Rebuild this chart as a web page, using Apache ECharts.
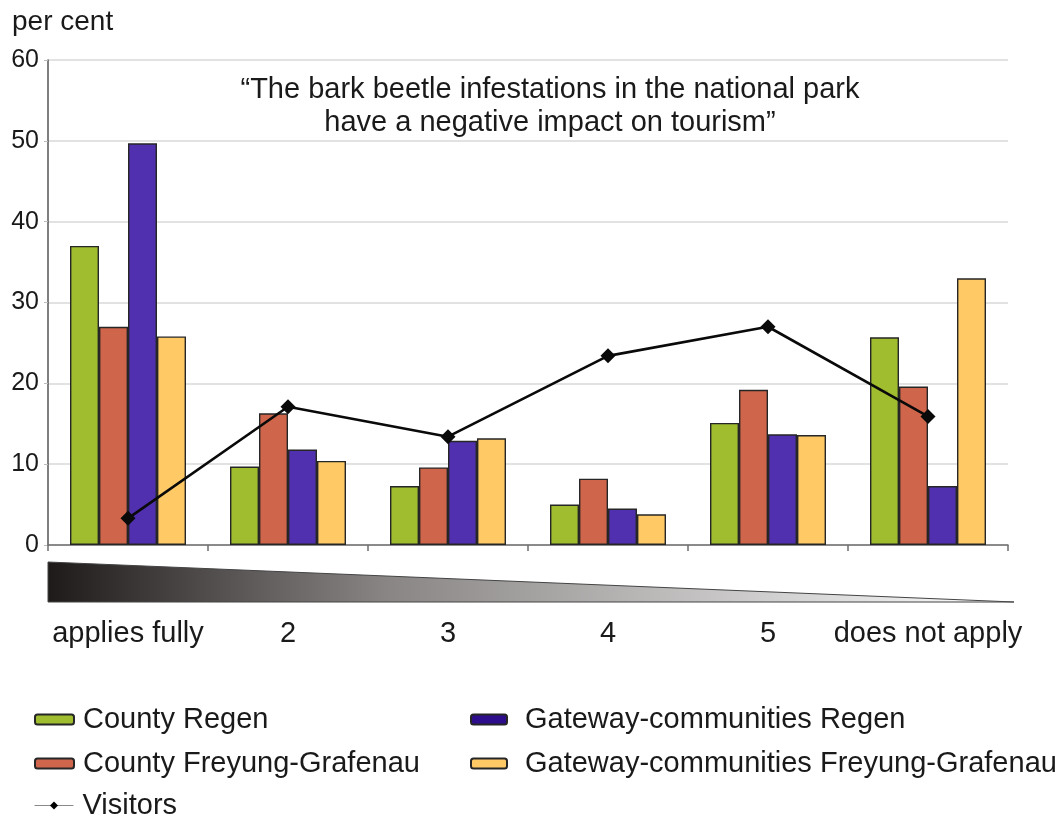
<!DOCTYPE html>
<html>
<head>
<meta charset="utf-8">
<script src="https://cdn.jsdelivr.net/npm/echarts@6/dist/echarts.min.js"></script>
<style>
html,body{margin:0;padding:0;background:#fff;}
#chart{width:1060px;height:816px;}
</style>
</head>
<body>
<div id="chart"></div>
<script>
const categories = ['applies fully', '2', '3', '4', '5', 'does not apply'];
const countyRegen = [37.0, 9.7, 7.3, 5.0, 15.1, 25.7];
const countyFG = [27.0, 16.3, 9.6, 8.2, 19.2, 19.6];
const gatewayRegen = [49.7, 11.8, 12.9, 4.5, 13.7, 7.3];
const gatewayFG = [25.8, 10.4, 13.2, 3.8, 13.6, 33.0];
const visitors = [3.3, 17.1, 13.4, 23.4, 27.0, 15.9];
const yTicks = [0, 10, 20, 30, 40, 50, 60];

const FONT = '"Liberation Sans", Arial, sans-serif';
const TXT = '#1a1a1a';
const chart = echarts.init(document.getElementById('chart'));

function barSeries(name, data, color) {
  return {
    name: name, type: 'bar', data: data,
    barWidth: 29, barGap: '0%',
    itemStyle: {color: color, borderColor: '#262626', borderWidth: 1.4},
    emphasis: {disabled: true}
  };
}

function legendText(padLeft) {
  return {fontFamily: FONT, fontSize: 29, color: TXT, lineHeight: 28, padding: [0, 0, 0, padLeft]};
}

chart.setOption({
  backgroundColor: '#fff',
  animation: false,
  title: {
    text: '\u201CThe bark beetle infestations in the national park\nhave a negative impact on tourism\u201D',
    left: 545, top: 68, textAlign: 'center',
    textStyle: {fontFamily: FONT, fontSize: 29, fontWeight: 'normal', color: TXT, lineHeight: 33}
  },
  grid: {left: 48, right: 52, top: 60, bottom: 271, containLabel: false},
  legend: [
    {
      orient: 'vertical', left: 29, top: 700, itemWidth: 39, itemHeight: 10, itemGap: 15,
      textStyle: legendText(4),
      data: [{name: 'County Regen'}, {name: 'County Freyung-Grafenau'}]
    },
    {
      orient: 'vertical', left: 29, top: 786, itemWidth: 39, itemHeight: 10, itemGap: 15,
      textStyle: legendText(4),
      data: [{name: 'Visitors', lineStyle: {color: '#8a8a8a', width: 1}, itemStyle: {color: '#000'}}]
    },
    {
      orient: 'vertical', left: 465, top: 700, itemWidth: 36, itemHeight: 10, itemGap: 15,
      textStyle: legendText(13),
      data: [
        {name: 'Gateway-communities Regen', itemStyle: {color: '#2e0d8c'}},
        {name: 'Gateway-communities Freyung-Grafenau'}
      ]
    }
  ],
  xAxis: {
    type: 'category', data: categories,
    axisLine: {lineStyle: {color: '#6e6e6e', width: 1.5}},
    axisTick: {show: true, alignWithLabel: false, length: 6, lineStyle: {color: '#6e6e6e', width: 1.5}},
    axisLabel: {fontFamily: FONT, fontSize: 29, color: TXT, margin: 74, interval: 0}
  },
  yAxis: {
    type: 'value', min: 0, max: 60, interval: 10,
    name: 'per cent', nameLocation: 'end', nameGap: 24,
    nameTextStyle: {fontFamily: FONT, fontSize: 28, color: TXT, align: 'left', padding: [0, 0, 0, -36]},
    axisLine: {show: true, lineStyle: {color: '#555', width: 1.5}},
    axisTick: {show: true, length: 4, lineStyle: {color: '#bbb'}},
    axisLabel: {fontFamily: FONT, fontSize: 25, color: TXT, margin: 9},
    splitLine: {lineStyle: {color: '#d9d9d9', width: 1.5}}
  },
  graphic: [
    {
      type: 'polygon', silent: true,
      shape: {points: [[48, 562], [1014, 602], [48, 602]]},
      style: {
        fill: new echarts.graphic.LinearGradient(0, 0, 1, 0, [
          {offset: 0, color: '#1e1a19'},
          {offset: 0.35, color: '#888584'},
          {offset: 1, color: '#ffffff'}
        ]),
        stroke: '#444', lineWidth: 1
      }
    }
  ],
  series: [
    barSeries('County Regen', countyRegen, '#9fbd2f'),
    barSeries('County Freyung-Grafenau', countyFG, '#cf664c'),
    barSeries('Gateway-communities Regen', gatewayRegen, '#5030ae'),
    barSeries('Gateway-communities Freyung-Grafenau', gatewayFG, '#ffca66'),
    {
      name: 'Visitors', type: 'line', data: visitors,
      symbol: 'diamond', symbolSize: 15,
      lineStyle: {color: '#0a0a0a', width: 2.6},
      itemStyle: {color: '#0a0a0a'},
      emphasis: {disabled: true}, z: 5
    }
  ]
});
</script>
</body>
</html>
